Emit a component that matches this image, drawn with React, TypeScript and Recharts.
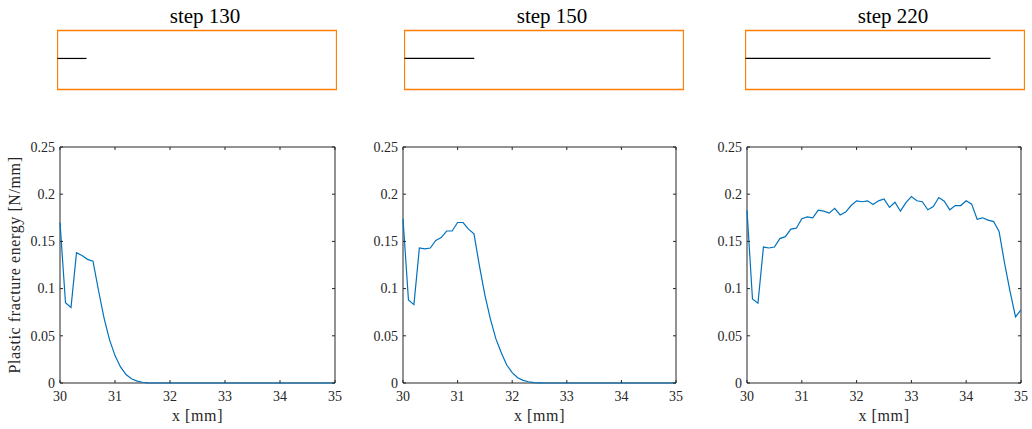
import { LineChart, Line, XAxis, YAxis, ReferenceArea } from 'recharts';

// x positions along the specimen [mm]
const xPositions = [
  30, 30.1, 30.2, 30.3, 30.4, 30.5, 30.6, 30.7, 30.8, 30.9,
  31, 31.1, 31.2, 31.3, 31.4, 31.5, 31.6, 31.7, 31.8, 31.9,
  32, 32.1, 32.2, 32.3, 32.4, 32.5, 32.6, 32.7, 32.8, 32.9,
  33, 33.1, 33.2, 33.3, 33.4, 33.5, 33.6, 33.7, 33.8, 33.9,
  34, 34.1, 34.2, 34.3, 34.4, 34.5, 34.6, 34.7, 34.8, 34.9, 35,
];

// plastic fracture energy [N/mm]
const energy130 = [
  0.17, 0.085, 0.08, 0.138, 0.135, 0.131, 0.129, 0.098, 0.069, 0.046,
  0.029, 0.017, 0.009, 0.0045, 0.002, 0.0008, 0.0002, 0, 0, 0,
  0, 0, 0, 0, 0, 0, 0, 0, 0, 0,
  0, 0, 0, 0, 0, 0, 0, 0, 0, 0,
  0, 0, 0, 0, 0, 0, 0, 0, 0, 0, 0,
];
const energy150 = [
  0.174, 0.088, 0.083, 0.143, 0.142, 0.143, 0.151, 0.154, 0.161, 0.161,
  0.17, 0.17, 0.163, 0.158, 0.124, 0.093, 0.068, 0.047, 0.032, 0.019,
  0.011, 0.0055, 0.0028, 0.0013, 0.0005, 0.0002, 0, 0, 0, 0,
  0, 0, 0, 0, 0, 0, 0, 0, 0, 0,
  0, 0, 0, 0, 0, 0, 0, 0, 0, 0, 0,
];
const energy220 = [
  0.183, 0.089, 0.0845, 0.144, 0.143, 0.144, 0.153, 0.155, 0.163, 0.164,
  0.174, 0.176, 0.175, 0.183, 0.182, 0.18, 0.185, 0.178, 0.181, 0.188,
  0.193, 0.192, 0.193, 0.189, 0.193, 0.195, 0.186, 0.1915, 0.182, 0.191,
  0.1975, 0.193, 0.192, 0.1835, 0.187, 0.1965, 0.1925, 0.1835, 0.188, 0.188,
  0.193, 0.1895, 0.1735, 0.175, 0.1725, 0.171, 0.1605, 0.127, 0.097, 0.07, 0.0775,
];

const stepTitles = ['step 130', 'step 150', 'step 220'];
const crackTips = [30.52, 31.25, 34.39];

const xTicks = [30, 31, 32, 33, 34, 35];
const yTicks = [0, 0.05, 0.1, 0.15, 0.2, 0.25];

const FONT = '"Liberation Serif", "Times New Roman", serif';
const INK = '#262626';
const BLUE = '#0072BD';
const ORANGE = '#FF8000';

const PLOT_H = 236;

function XTick(props: any) {
  const { x, y, payload } = props;
  return (
    <g>
      <line x1={x} y1={y} x2={x} y2={y - 3} stroke={INK} />
      <line x1={x} y1={y - PLOT_H} x2={x} y2={y - PLOT_H + 3} stroke={INK} />
      <text x={x} y={y + 17.5} textAnchor="middle" fontFamily={FONT} fontSize={14} fill={INK}>
        {payload.value}
      </text>
    </g>
  );
}

function makeYTick(plotW: number) {
  return (props: any) => {
    const { x, y, payload } = props;
    return (
      <g>
        <line x1={x} y1={y} x2={x + 3} y2={y} stroke={INK} />
        <line x1={x + plotW} y1={y} x2={x + plotW - 3} y2={y} stroke={INK} />
        <text x={x - 5} y={y} dy="0.34em" textAnchor="end" fontFamily={FONT} fontSize={14} fill={INK}>
          {payload.value}
        </text>
      </g>
    );
  };
}

function EnergyPanel({ values, plotLeft, plotW, yLabel }: { values: number[]; plotLeft: number; plotW: number; yLabel?: boolean }) {
  const rows = xPositions.map((x, i) => ({ x, e: values[i] }));
  return (
    <div style={{ position: 'absolute', left: plotLeft - 60, top: 130 }}>
      <LineChart width={60 + plotW + 10} height={299} data={rows} margin={{ top: 17, right: 10, bottom: 0, left: 0 }}>
        <XAxis
          dataKey="x"
          type="number"
          domain={[30, 35]}
          ticks={xTicks}
          interval={0}
          height={46}
          tickSize={0}
          tickMargin={0}
          tickLine={false}
          axisLine={false}
          tick={XTick}
          label={{
            content: (p: any) => {
              const vb = p.viewBox;
              return (
                <text x={vb.x + vb.width / 2} y={vb.y + 37.5} textAnchor="middle" fontFamily={FONT} fontSize={16} letterSpacing={0.6} fill={INK}>
                  x [mm]
                </text>
              );
            },
          }}
        />
        <YAxis
          type="number"
          domain={[0, 0.25]}
          ticks={yTicks}
          interval={0}
          width={60}
          tickSize={0}
          tickMargin={0}
          tickLine={false}
          axisLine={false}
          tick={makeYTick(plotW)}
          label={
            yLabel
              ? {
                  content: (p: any) => {
                    const vb = p.viewBox;
                    const cy = vb.y + vb.height / 2;
                    return (
                      <text transform={`translate(20, ${cy}) rotate(-90)`} textAnchor="middle" fontFamily={FONT} fontSize={16} letterSpacing={0.6} fill={INK}>
                        Plastic fracture energy [N/mm]
                      </text>
                    );
                  },
                }
              : undefined
          }
        />
        <ReferenceArea x1={30} x2={35} y1={0} y2={0.25} fill="none" stroke={INK} strokeWidth={1} />
        <Line dataKey="e" stroke={BLUE} strokeWidth={1.2} dot={false} isAnimationActive={false} />
      </LineChart>
    </div>
  );
}

function CrackPanel({ title, tip, left }: { title: string; tip: number; left: number }) {
  const rows = [
    { x: 30, c: 0 },
    { x: tip, c: 0 },
  ];
  return (
    <div style={{ position: 'absolute', left, top: 0 }}>
      <LineChart width={280} height={100} data={rows} margin={{ top: 30.5, right: 0.5, bottom: 10.5, left: 0.5 }}>
        <XAxis dataKey="x" type="number" domain={[30, 35]} hide />
        <YAxis type="number" domain={[-1, 0.9]} hide />
        <ReferenceArea
          x1={30}
          x2={35}
          y1={-1}
          y2={0.9}
          fill="none"
          stroke={ORANGE}
          strokeWidth={1.3}
          label={{
            content: (p: any) => {
              const vb = p.viewBox;
              return (
                <text x={vb.x + vb.width / 2 + 8} y={vb.y - 8} textAnchor="middle" fontFamily={FONT} fontSize={21} fill="#000">
                  {title}
                </text>
              );
            },
          }}
        />
        <Line dataKey="c" stroke="#000" strokeWidth={1.2} dot={false} isAnimationActive={false} />
      </LineChart>
    </div>
  );
}

export default function App() {
  return (
    <div style={{ position: 'absolute', left: 0, top: 0, width: 1032, height: 429, background: '#fff', overflow: 'hidden' }}>
      <CrackPanel title={stepTitles[0]} tip={crackTips[0]} left={57} />
      <CrackPanel title={stepTitles[1]} tip={crackTips[1]} left={404} />
      <CrackPanel title={stepTitles[2]} tip={crackTips[2]} left={745} />
      <EnergyPanel values={energy130} plotLeft={60} plotW={275} yLabel />
      <EnergyPanel values={energy150} plotLeft={403} plotW={273} />
      <EnergyPanel values={energy220} plotLeft={747} plotW={274} />
    </div>
  );
}
